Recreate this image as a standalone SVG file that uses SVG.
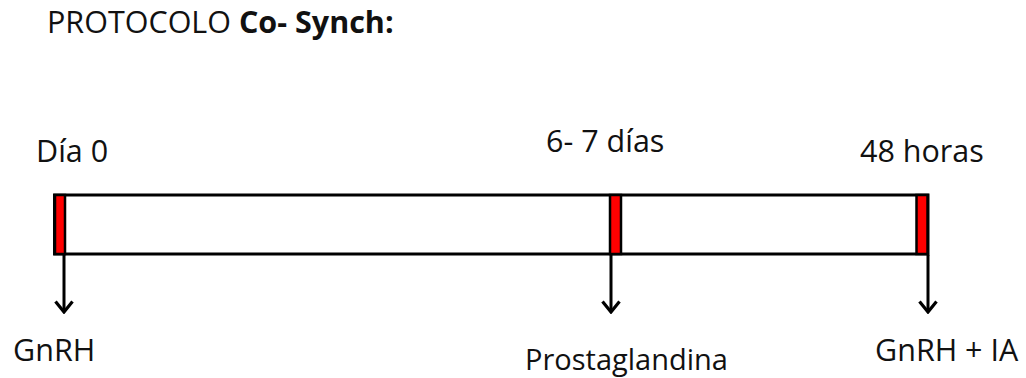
<svg xmlns="http://www.w3.org/2000/svg" width="1026" height="378" viewBox="0 0 1026 378">
  <style>
    .lbl { font-family: "Open Sans", "Liberation Sans", sans-serif; font-size: 30.5px; fill: #111; }
    .title { font-family: "Open Sans", "Liberation Sans", sans-serif; font-size: 30.5px; fill: #111; }
    .track { fill: #fff; stroke: #000; stroke-width: 3; }
    .mark { fill: #ff0000; stroke: #000; stroke-width: 2.5; }
    .arrow { fill: none; stroke: #000; stroke-width: 3; }
  </style>
  <defs>
    <!-- open chevron head, drawn along +x so orient="auto" turns it down the line -->
    <marker id="head" viewBox="0 0 14 20" refX="12" refY="10" markerWidth="14" markerHeight="20" markerUnits="userSpaceOnUse" orient="auto">
      <path d="M1.5,1.5 L12,10 L1.5,18.5" fill="none" stroke="#000" stroke-width="3.2" stroke-linejoin="miter"/>
    </marker>
  </defs>
  <rect width="1026" height="378" fill="#fff"/>

  <text class="title" x="47" y="33">PROTOCOLO <tspan font-weight="bold">Co- Synch:</tspan></text>

  <!-- timeline bar -->
  <g id="timeline">
    <rect class="track" x="54.5" y="195" width="873.5" height="59"/>
  </g>

  <!-- day markers -->
  <g id="day0">
    <rect class="mark" x="55" y="195" width="10" height="59"/>
    <text class="lbl" x="36" y="162">Día 0</text>
    <text class="lbl" x="13" y="361">GnRH</text>
  </g>
  <g id="day6-7">
    <rect class="mark" x="610" y="195" width="11" height="59"/>
    <text class="lbl" x="546" y="152">6- 7 días</text>
    <text class="lbl" x="525" y="370" style="font-size:29px">Prostaglandina</text>
  </g>
  <g id="h48">
    <rect class="mark" x="916.5" y="195" width="11" height="59"/>
    <text class="lbl" x="860" y="162">48 horas</text>
    <text class="lbl" x="875" y="361">GnRH + IA</text>
  </g>

  <!-- connectors -->
  <g id="connectors">
    <path class="arrow" d="M64,255 V312" marker-end="url(#head)"/>
    <path class="arrow" d="M611,255 V312" marker-end="url(#head)"/>
    <path class="arrow" d="M928,255 V312" marker-end="url(#head)"/>
  </g>
</svg>
